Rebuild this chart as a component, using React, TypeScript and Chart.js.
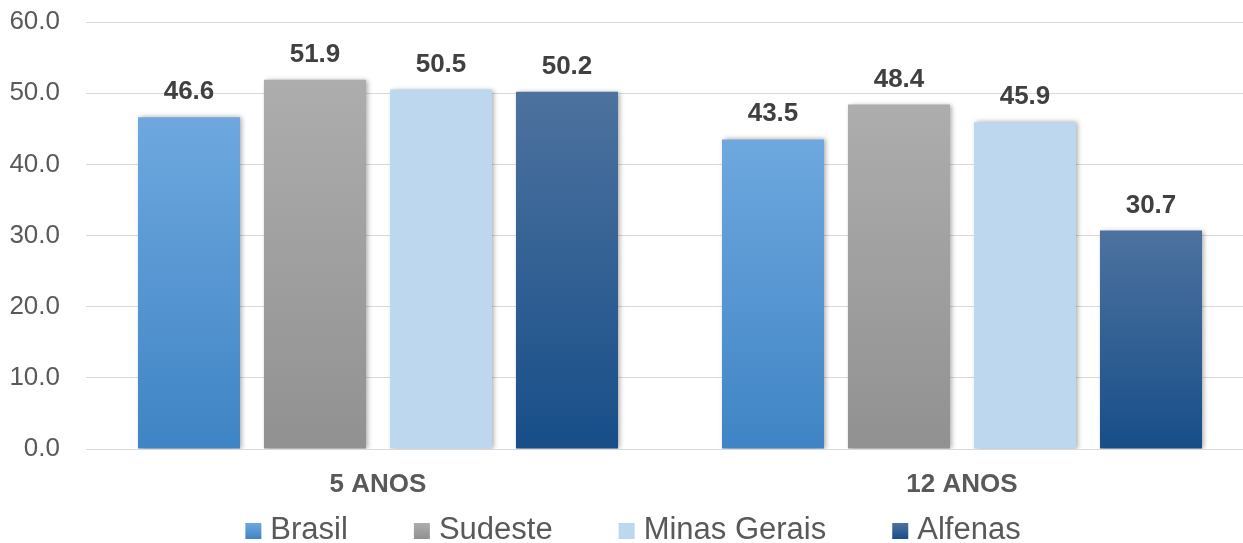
import React, { useEffect, useRef } from "react";
import { Chart, registerables } from "chart.js";

Chart.register(...registerables);

// ---- data ----
const categories = ["5 ANOS", "12 ANOS"];
const seriesNames = ["Brasil", "Sudeste", "Minas Gerais", "Alfenas"];
const brasil = [46.6, 43.5];
const sudeste = [51.9, 48.4];
const minasGerais = [50.5, 45.9];
const alfenas = [50.2, 30.7];
const yTickValues = [0, 10, 20, 30, 40, 50, 60];

// ---- styles ----
const seriesGradients: [string, string][] = [
  ["#6ea8df", "#3f84c5"],
  ["#adadad", "#919191"],
  ["#bdd7ee", "#bdd7ee"],
  ["#4d729f", "#174e88"],
];

const FONT = "'Liberation Sans', Arial, sans-serif";

const barShadow = {
  id: "barShadow",
  beforeDatasetDraw(chart: any) {
    const ctx = chart.ctx;
    ctx.save();
    ctx.shadowColor = "rgba(0,0,0,0.35)";
    ctx.shadowBlur = 5;
    ctx.shadowOffsetX = 2;
    ctx.shadowOffsetY = 0;
  },
  afterDatasetDraw(chart: any) {
    chart.ctx.restore();
  },
};

const valueLabels = {
  id: "valueLabels",
  afterDatasetsDraw(chart: any) {
    const ctx = chart.ctx;
    ctx.save();
    ctx.font = `bold 26px ${FONT}`;
    ctx.fillStyle = "#404040";
    ctx.textAlign = "center";
    ctx.textBaseline = "alphabetic";
    chart.data.datasets.forEach((ds: any, di: number) => {
      const meta = chart.getDatasetMeta(di);
      meta.data.forEach((bar: any, i: number) => {
        const v = ds.data[i] as number;
        ctx.fillText(v.toFixed(1), bar.x, bar.y - 18);
      });
    });
    ctx.restore();
  },
};

const customLegend = {
  id: "customLegend",
  afterDraw(chart: any) {
    const ctx = chart.ctx;
    ctx.save();
    ctx.font = `31px ${FONT}`;
    const box = 16;
    const gapBoxText = 9;
    const gapItems = 66;
    const items = chart.data.datasets.map((ds: any, i: number) => ({
      label: ds.label as string,
      w: ctx.measureText(ds.label).width,
      grad: seriesGradients[i],
    }));
    const total =
      items.reduce((s: number, it: any) => s + box + gapBoxText + it.w, 0) +
      gapItems * (items.length - 1);
    let x = 633 - total / 2;
    const baseline = 539;
    items.forEach((it: any) => {
      const g = ctx.createLinearGradient(0, baseline - box, 0, baseline);
      g.addColorStop(0, it.grad[0]);
      g.addColorStop(1, it.grad[1]);
      ctx.fillStyle = g;
      ctx.fillRect(x, baseline - box, box, box);
      x += box + gapBoxText;
      ctx.fillStyle = "#595959";
      ctx.textAlign = "left";
      ctx.textBaseline = "alphabetic";
      ctx.fillText(it.label, x, baseline);
      x += it.w + gapItems;
    });
    ctx.restore();
  },
};

function gradientFor(index: number) {
  return (c: any) => {
    const chart = c.chart;
    const [top, bottom] = seriesGradients[index];
    if (!chart.chartArea || c.type !== "data") return top;
    const y = chart.scales.y;
    const yTop = y.getPixelForValue(c.raw as number);
    const yBot = y.getPixelForValue(0);
    if (!isFinite(yTop) || !isFinite(yBot) || yTop === yBot) return top;
    const g = chart.ctx.createLinearGradient(0, yTop, 0, yBot);
    g.addColorStop(0, top);
    g.addColorStop(1, bottom);
    return g;
  };
}

export default function App() {
  const canvasRef = useRef<HTMLCanvasElement | null>(null);

  useEffect(() => {
    if (!canvasRef.current) return;
    const seriesValues = [brasil, sudeste, minasGerais, alfenas];
    const chart = new Chart(canvasRef.current, {
      type: "bar",
      data: {
        labels: categories,
        datasets: seriesNames.map((name, i) => ({
          label: name,
          data: seriesValues[i],
          backgroundColor: gradientFor(i),
          borderWidth: 0,
          categoryPercentage: 0.863,
          barPercentage: 0.81,
        })),
      },
      options: {
        responsive: false,
        animation: false,
        devicePixelRatio: 1,
        layout: { padding: { top: 22, left: 0, right: 6, bottom: 0 } },
        plugins: {
          legend: { display: false },
          tooltip: { enabled: false },
          title: { display: false },
        },
        scales: {
          x: {
            grid: { display: false },
            border: { display: false },
            ticks: {
              color: "#595959",
              font: { family: FONT, size: 26, weight: "bold" },
              padding: 12,
            },
            afterFit(scale: any) {
              scale.height = 94;
            },
          },
          y: {
            min: 0,
            max: 60,
            afterBuildTicks(scale: any) {
              scale.ticks = yTickValues.map((v) => ({ value: v }));
            },
            grid: { color: "#d9d9d9", lineWidth: 1, drawTicks: false },
            border: { display: false },
            ticks: {
              color: "#595959",
              font: { family: FONT, size: 26 },
              padding: 26,
              callback: (v: any) => Number(v).toFixed(1),
            },
            afterFit(scale: any) {
              scale.width = 86;
              scale.paddingTop = 0;
              scale.paddingBottom = 0;
            },
          },
        },
      },
      plugins: [barShadow, valueLabels, customLegend],
    });
    return () => chart.destroy();
  }, []);

  return (
    <div
      style={{
        position: "fixed",
        left: 0,
        top: 0,
        width: 1243,
        height: 543,
        overflow: "hidden",
        background: "#ffffff",
      }}
    >
      <canvas ref={canvasRef} width={1260} height={543} style={{ display: "block" }} />
    </div>
  );
}
